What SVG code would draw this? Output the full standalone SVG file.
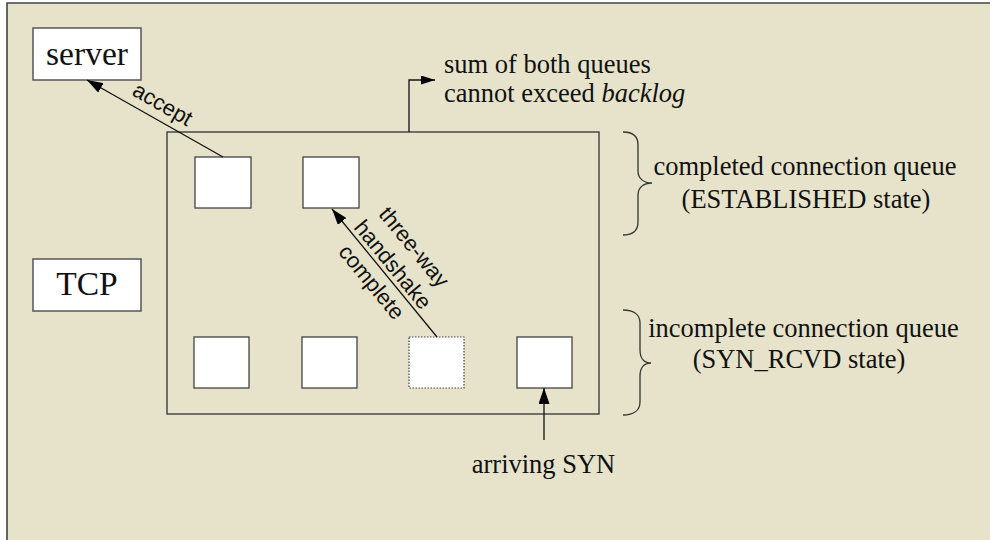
<svg xmlns="http://www.w3.org/2000/svg" width="990" height="540" viewBox="0 0 990 540">
<style>
.serif{font-family:"Liberation Serif","Times New Roman",serif;fill:#111}
.lbl{font-size:26.5px}
.big{font-size:33.5px}
.sans{font-family:"Liberation Sans",Arial,sans-serif;font-size:22px;fill:#111}
.box{fill:#fff;stroke:#555;stroke-width:1.5}
.qbox{fill:#fff;stroke:#444;stroke-width:1.3}
.dot{fill:#fff;stroke:#444;stroke-width:1.2;stroke-dasharray:1.5 1.5}
.ln{fill:none;stroke:#111;stroke-width:1.3}
.brace{fill:none;stroke:#333;stroke-width:1.3}
</style>
<defs>
<marker id="ah" viewBox="0 0 16 11" refX="16" refY="5.5" markerWidth="16" markerHeight="11" markerUnits="userSpaceOnUse" orient="auto">
<path d="M0,0 L16,5.5 L0,11 z" fill="#000"/>
</marker>
<marker id="ahs" viewBox="0 0 14 9" refX="14" refY="4.5" markerWidth="14" markerHeight="9" markerUnits="userSpaceOnUse" orient="auto">
<path d="M0,0 L14,4.5 L0,9 z" fill="#000"/>
</marker>
</defs>
<rect x="0" y="0" width="990" height="540" fill="#fff"/>
<rect x="7" y="3" width="990" height="540" fill="#e6e3ca"/>
<path d="M7,540 L7,3 L990,3" fill="none" stroke="#444" stroke-width="1.6"/>

<g id="server">
<rect class="box" x="33" y="28" width="108" height="52"/>
<text class="serif big" x="87" y="64.5" text-anchor="middle">server</text>
</g>
<g id="tcp">
<rect class="box" x="33" y="259" width="108" height="52"/>
<text class="serif big" x="87" y="295" text-anchor="middle">TCP</text>
</g>
<g id="queues">
<rect x="167" y="132" width="432" height="282" fill="none" stroke="#333" stroke-width="1.3"/>
</g>
<g id="completed1"><rect class="qbox" x="195" y="157" width="56" height="51"/></g>
<g id="completed2"><rect class="qbox" x="303" y="157" width="56" height="51"/></g>
<g id="incomplete1"><rect class="qbox" x="194" y="337" width="55" height="51"/></g>
<g id="incomplete2"><rect class="qbox" x="302" y="337" width="55" height="51"/></g>
<g id="incomplete3"><rect class="dot" x="409" y="337" width="55" height="51"/></g>
<g id="incomplete4"><rect class="qbox" x="517" y="337" width="55" height="51"/></g>

<g id="backlog-note">
<text class="serif lbl" x="444" y="73.3">sum of both queues</text>
<text class="serif lbl" x="444" y="102.3">cannot exceed <tspan font-style="italic">backlog</tspan></text>
</g>
<g id="completed-label">
<path class="brace" d="M623,132 C633,132 638,137 638,145 L638,171 C638,178 643,183 652,183 C643,183 638,188 638,195 L638,222 C638,230 633,235 623,235"/>
<text class="serif lbl" x="805" y="175" text-anchor="middle">completed connection queue</text>
<text class="serif lbl" x="806" y="208" text-anchor="middle">(ESTABLISHED state)</text>
</g>
<g id="incomplete-label">
<path class="brace" d="M623,310 C634,310 640,315 640,323 L640,350 C640,358 644,363 651,363 C644,363 640,368 640,376 L640,402 C640,410 634,415 623,415"/>
<text class="serif lbl" x="803.5" y="337.3" text-anchor="middle">incomplete connection queue</text>
<text class="serif lbl" x="799" y="368.3" text-anchor="middle">(SYN_RCVD state)</text>
</g>
<g id="syn-label">
<text class="serif lbl" x="543.5" y="473" text-anchor="middle">arriving SYN</text>
</g>

<g id="connectors">
<line class="ln" x1="223" y1="157" x2="87" y2="80" marker-end="url(#ah)"/>
<line class="ln" x1="437" y1="337" x2="332" y2="209" marker-end="url(#ah)"/>
<line class="ln" x1="544" y1="440" x2="544" y2="388" marker-end="url(#ah)"/>
<polyline class="ln" points="409,132 409,80 435,80" marker-end="url(#ahs)"/>
<g transform="translate(159,110.5) rotate(29.8)">
<text class="sans" x="0" y="0" text-anchor="middle">accept</text>
</g>
<g transform="translate(383.7,272.1) rotate(50.6)">
<text class="sans" x="0" y="-32" text-anchor="middle">three-way</text>
<text class="sans" x="0" y="-4.5" text-anchor="middle">handshake</text>
<text class="sans" x="0" y="23" text-anchor="middle">complete</text>
</g>
</g>
</svg>
